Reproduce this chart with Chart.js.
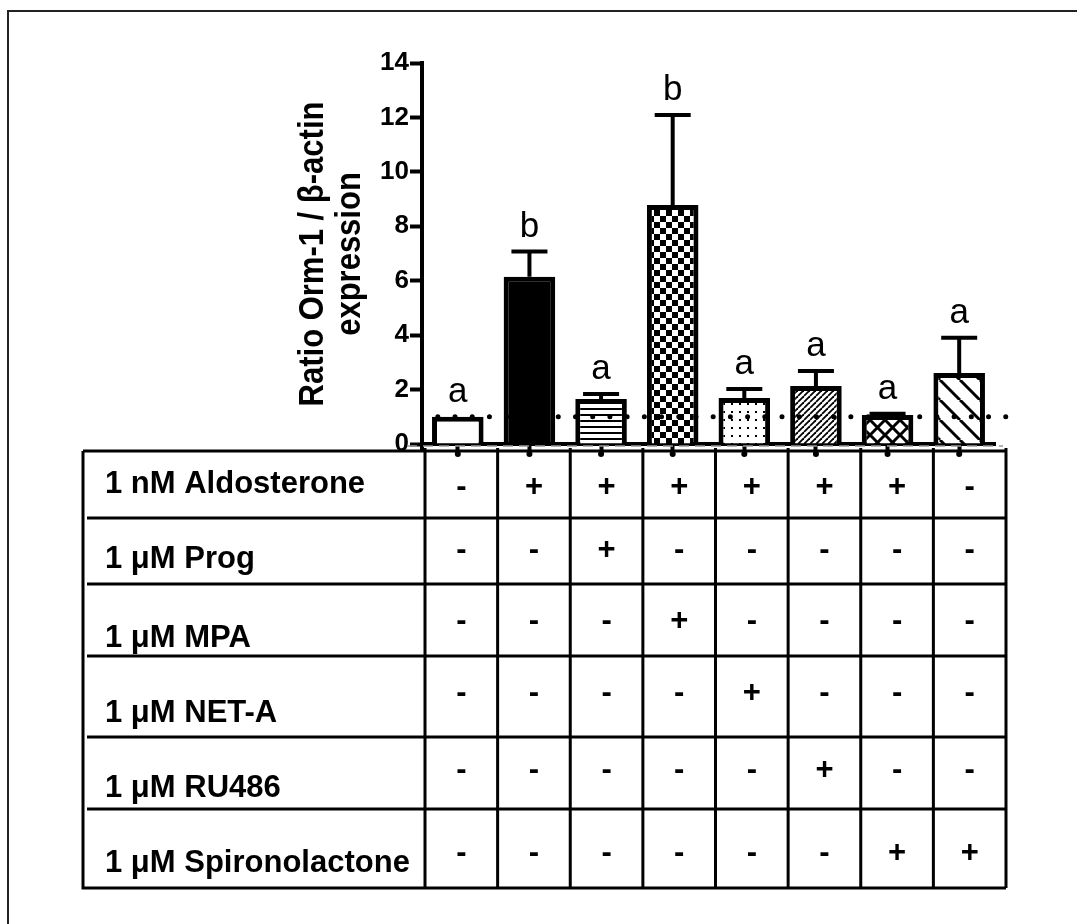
<!DOCTYPE html>
<html>
<head>
<meta charset="utf-8">
<script src="https://cdn.jsdelivr.net/npm/chart.js@4.4.0/dist/chart.umd.min.js"></script>
<style>
  html, body { margin: 0; padding: 0; background: #fff; }
  #wrap { width: 1077px; height: 924px; position: relative; }
</style>
</head>
<body>
<div id="wrap"><canvas id="grafico"></canvas></div>
<script>
// Dados do gráfico
const grupos = ['Controle', 'Aldo', 'Aldo + Prog', 'Aldo + MPA', 'Aldo + NET-A', 'Aldo + RU486', 'Aldo + Spiro', 'Spiro'];
const medias = [1.0, 6.15, 1.65, 8.78, 1.69, 2.13, 1.07, 2.61];
const erros = [0, 0.92, 0.19, 3.31, 0.33, 0.55, 0.04, 1.29];
const letras = ['a', 'b', 'a', 'b', 'a', 'a', 'a', 'a'];
const padroes = ['branco', 'preto', 'horizontal', 'xadrez', 'pontos', 'diagonal', 'cruzado', 'contra'];
const yTicks = [0, 2, 4, 6, 8, 10, 12, 14];
const linhaReferencia = 1;
const tituloY = ['Ratio Orm-1 / \u03b2-actin', 'expression'];

// Tabela de tratamentos
const tratamentos = ['1 nM Aldosterone', '1 \u03bcM Prog', '1 \u03bcM MPA', '1 \u03bcM NET-A', '1 \u03bcM RU486', '1 \u03bcM Spironolactone'];
const aldosterona = ['-', '+', '+', '+', '+', '+', '+', '-'];
const prog = ['-', '-', '+', '-', '-', '-', '-', '-'];
const mpa = ['-', '-', '-', '+', '-', '-', '-', '-'];
const netA = ['-', '-', '-', '-', '+', '-', '-', '-'];
const ru486 = ['-', '-', '-', '-', '-', '+', '-', '-'];
const espironolactona = ['-', '-', '-', '-', '-', '-', '+', '+'];
const sinais = [aldosterona, prog, mpa, netA, ru486, espironolactona];

const FONTE = '"Liberation Sans", Arial, Helvetica, sans-serif';

// Cria os preenchimentos (hachuras) de cada barra
function criarPadrao(tipo) {
    if (tipo === 'branco') return '#ffffff';
    if (tipo === 'preto') return '#000000';
    const tamanhos = { horizontal: 6, xadrez: 12, pontos: 8, diagonal: 6, cruzado: 15, contra: 20 };
    const s = tamanhos[tipo];
    const c = document.createElement('canvas');
    c.width = s; c.height = s;
    const ctx = c.getContext('2d');
    ctx.fillStyle = '#fff';
    ctx.fillRect(0, 0, s, s);
    ctx.fillStyle = '#000';
    ctx.strokeStyle = '#000';
    if (tipo === 'horizontal') {
        ctx.fillRect(0, 0, s, 2);
    } else if (tipo === 'xadrez') {
        ctx.fillRect(0, 0, s / 2, s / 2);
        ctx.fillRect(s / 2, s / 2, s / 2, s / 2);
    } else if (tipo === 'pontos') {
        ctx.fillRect(3, 3, 2, 2);
    } else {
        ctx.lineWidth = tipo === 'diagonal' ? 1.8 : 3;
        for (let k = -1; k <= 1; k++) {
            if (tipo === 'diagonal' || tipo === 'cruzado') {
                ctx.beginPath(); ctx.moveTo(k * s, s); ctx.lineTo(k * s + s, 0); ctx.stroke();
            }
            if (tipo === 'contra' || tipo === 'cruzado') {
                ctx.beginPath(); ctx.moveTo(k * s, 0); ctx.lineTo(k * s + s, s); ctx.stroke();
            }
        }
    }
    return ctx.createPattern(c, 'repeat');
}

// Plugin: barras de erro, linha pontilhada e letras
const extrasGrafico = {
    id: 'extrasGrafico',
    afterDatasetsDraw(chart) {
        const ctx = chart.ctx;
        const y = chart.scales.y;
        const meta = chart.getDatasetMeta(0);
        ctx.save();
        ctx.strokeStyle = '#000';
        ctx.lineWidth = 4;
        meta.data.forEach((barra, i) => {
            if (erros[i] <= 0) return;
            const yTopo = y.getPixelForValue(medias[i]);
            const yErro = y.getPixelForValue(medias[i] + erros[i]);
            ctx.beginPath();
            ctx.moveTo(barra.x, yTopo);
            ctx.lineTo(barra.x, yErro);
            ctx.moveTo(barra.x - 18, yErro);
            ctx.lineTo(barra.x + 18, yErro);
            ctx.stroke();
        });

        // Linha de referência pontilhada
        const yRef = y.getPixelForValue(linhaReferencia);
        ctx.beginPath();
        ctx.setLineDash([0.01, 17.2]);
        ctx.lineCap = 'round';
        ctx.lineWidth = 5;
        ctx.moveTo(meta.data[0].x - 20, yRef);
        ctx.lineTo(chart.chartArea.right + 14, yRef);
        ctx.stroke();
        ctx.setLineDash([]);

        // Letras de significância
        ctx.fillStyle = '#000';
        ctx.font = '35px ' + FONTE;
        ctx.textAlign = 'center';
        ctx.textBaseline = 'alphabetic';
        meta.data.forEach((barra, i) => {
            const yErro = y.getPixelForValue(medias[i] + erros[i]);
            ctx.fillText(letras[i], barra.x, yErro - 15);
        });
        ctx.restore();
    },
    afterDraw(chart) {
        const ctx = chart.ctx;
        const area = chart.chartArea;
        ctx.save();

        // Moldura externa
        ctx.strokeStyle = '#222';
        ctx.lineWidth = 2;
        ctx.beginPath();
        ctx.moveTo(8, 1000);
        ctx.lineTo(8, 11);
        ctx.lineTo(1100, 11);
        ctx.stroke();

        // Prolongamento do eixo Y e bolinhas dos ticks
        ctx.strokeStyle = '#000';
        ctx.lineWidth = 4;
        ctx.beginPath();
        ctx.moveTo(area.left, area.bottom);
        ctx.lineTo(area.left, area.bottom + 8);
        ctx.stroke();
        ctx.fillStyle = '#000';
        chart.getDatasetMeta(0).data.forEach(barra => {
            ctx.beginPath();
            ctx.arc(barra.x, area.bottom + 10, 3, 0, Math.PI * 2);
            ctx.fill();
        });

        // Linha cinza tracejada sob o eixo
        ctx.strokeStyle = '#999';
        ctx.lineWidth = 1.5;
        ctx.setLineDash([10, 6]);
        ctx.beginPath();
        ctx.moveTo(area.left - 15, area.bottom + 2);
        ctx.lineTo(area.right + 8, area.bottom + 2);
        ctx.stroke();
        ctx.setLineDash([]);

        // Tabela de tratamentos
        const linhasY = [451, 518, 584, 656, 737, 809, 888];
        const tabEsq = 83, tabDir = 1006, colEsq = 425;
        const largCol = (tabDir - colEsq) / grupos.length;
        ctx.strokeStyle = '#000';
        ctx.lineWidth = 3;
        ctx.beginPath();
        ctx.moveTo(tabEsq, linhasY[0]); ctx.lineTo(tabDir, linhasY[0]);
        ctx.moveTo(tabEsq, linhasY[0]); ctx.lineTo(tabEsq, linhasY[6]); ctx.lineTo(tabDir, linhasY[6]);
        for (let r = 1; r < linhasY.length - 1; r++) {
            ctx.moveTo(tabEsq + 4, linhasY[r]); ctx.lineTo(tabDir, linhasY[r]);
        }
        for (let c = 0; c <= grupos.length; c++) {
            const cx = colEsq + c * largCol;
            ctx.moveTo(cx, area.bottom + 4); ctx.lineTo(cx, linhasY[6]);
        }
        ctx.stroke();

        const baseRotulos = [493, 568, 647, 722, 797, 872];
        const baseSinais = [496, 559, 630, 702, 779, 862];
        ctx.fillStyle = '#000';
        ctx.font = 'bold 31px ' + FONTE;
        ctx.textBaseline = 'alphabetic';
        tratamentos.forEach((rotulo, r) => {
            ctx.textAlign = 'left';
            ctx.fillText(rotulo, 105, baseRotulos[r]);
            ctx.textAlign = 'center';
            sinais[r].forEach((sinal, c) => {
                ctx.fillText(sinal, colEsq + (c + 0.5) * largCol, baseSinais[r]);
            });
        });

        // Título do eixo Y (duas linhas, rotacionado)
        ctx.font = 'bold 31px ' + FONTE;
        ctx.textAlign = 'center';
        const basesTitulo = [323, 360];
        tituloY.forEach((linha, i) => {
            ctx.save();
            ctx.translate(basesTitulo[i], 254);
            ctx.rotate(-Math.PI / 2);
            ctx.scale(1, 1.12);
            ctx.fillText(linha, 0, 0);
            ctx.restore();
        });
        ctx.restore();
    }
};

document.addEventListener('DOMContentLoaded', () => {
    const ctx = document.getElementById('grafico').getContext('2d');
    new Chart(ctx, {
        type: 'bar',
        data: {
            labels: grupos,
            datasets: [{
                label: 'Ratio Orm-1 / \u03b2-actin',
                data: medias,
                backgroundColor: padroes.map(criarPadrao),
                borderColor: '#000',
                borderWidth: 5,
                borderSkipped: 'start',
                barPercentage: 0.72,
                categoryPercentage: 1.0
            }]
        },
        options: {
            responsive: true,
            maintainAspectRatio: false,
            animation: false,
            layout: { padding: { top: 63, right: 82, left: 0, bottom: 0 } },
            plugins: {
                legend: { display: false },
                tooltip: { enabled: false }
            },
            scales: {
                x: {
                    offset: true,
                    ticks: { display: false },
                    grid: { offset: false, drawOnChartArea: false, drawTicks: true, tickLength: 10, tickWidth: 4, tickColor: '#000', color: '#000' },
                    border: { display: true, color: '#000', width: 4 },
                    afterFit: s => { s.height = 924 - 444; }
                },
                y: {
                    min: 0,
                    max: 14,
                    afterBuildTicks: s => { s.ticks = yTicks.map(v => ({ value: v })); },
                    ticks: {
                        color: '#000',
                        padding: 1,
                        font: { family: FONTE, weight: 'bold', size: 26 }
                    },
                    grid: { drawOnChartArea: false, drawTicks: true, tickLength: 12, tickWidth: 4, tickColor: '#000', color: '#000' },
                    border: { display: true, color: '#000', width: 4 },
                    afterFit: s => { s.width = 422; }
                }
            }
        },
        plugins: [extrasGrafico]
    });
});
</script>
</body>
</html>
